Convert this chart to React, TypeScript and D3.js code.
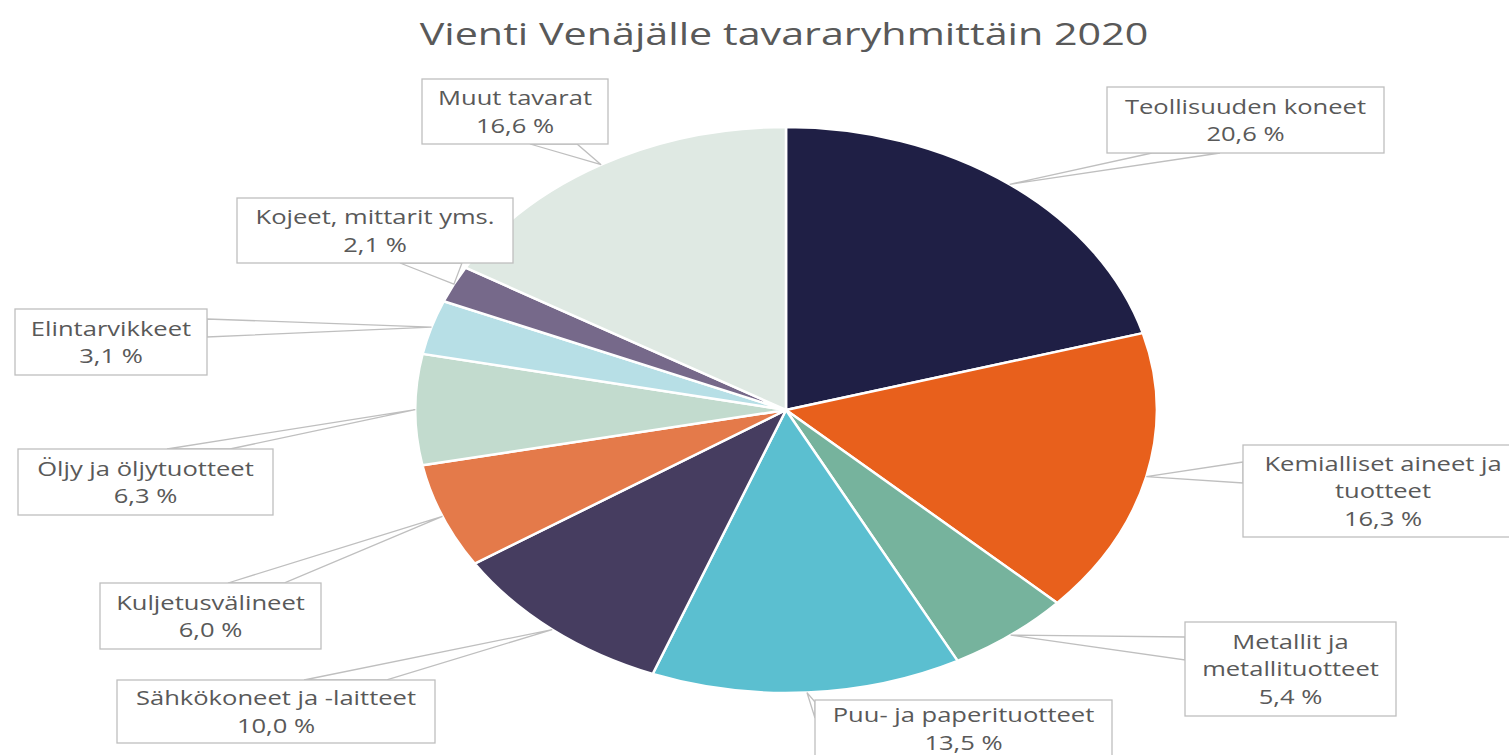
import React from "react";
import * as d3 from "d3";

const title = "Vienti Venäjälle tavararyhmittäin 2020";

const categories = [
  "Teollisuuden koneet",
  "Kemialliset aineet ja\ntuotteet",
  "Metallit ja\nmetallituotteet",
  "Puu- ja paperituotteet",
  "Sähkökoneet ja -laitteet",
  "Kuljetusvälineet",
  "Öljy ja öljytuotteet",
  "Elintarvikkeet",
  "Kojeet, mittarit yms.",
  "Muut tavarat",
];

const shares = [20.6, 16.3, 5.4, 13.5, 10.0, 6.0, 6.3, 3.1, 2.1, 16.6];

const colors = [
  "#1f1f45", "#e8601c", "#76b39d", "#5bbfd0", "#463d60",
  "#e47a4a", "#c2dbce", "#b7dfe6", "#76698a", "#dfe9e3",
];

// callout box layout: box rect, wedge side and the two base positions along that side
const callouts = [
  { x: 1107, y: 87, w: 277, h: 66, side: "bottom", a: 1152, b: 1220 },
  { x: 1243, y: 445, w: 280, h: 92, side: "left", a: 462, b: 483 },
  { x: 1185, y: 622, w: 211, h: 94, side: "left", a: 637, b: 660 },
  { x: 815, y: 700, w: 297, h: 57, side: "left", a: 702, b: 718 },
  { x: 117, y: 680, w: 318, h: 63, side: "top", a: 304, b: 386 },
  { x: 100, y: 583, w: 221, h: 66, side: "top", a: 228, b: 284 },
  { x: 18, y: 449, w: 255, h: 66, side: "top", a: 167, b: 230 },
  { x: 15, y: 309, w: 192, h: 66, side: "right", a: 319, b: 337 },
  { x: 237, y: 198, w: 276, h: 65, side: "bottom", a: 400, b: 462 },
  { x: 422, y: 79, w: 186, h: 65, side: "bottom", a: 530, b: 577 },
];

const W = 1509;
const H = 755;
const cx = 786;
const cy = 410;
const r = 283;
const sx = 1.31; // the chart is stretched horizontally
const textColor = "#595959";
const font = "'Open Sans', 'DejaVu Sans', sans-serif";

const fmt = (v: number) => v.toFixed(1).replace(".", ",") + " %";

export default function App() {
  const pie = d3.pie<number>().sort(null).value((d) => d);
  const arcs = pie(shares);
  const arc = d3.arc<d3.PieArcDatum<number>>().innerRadius(0).outerRadius(r);
  const edge = d3.arc<d3.PieArcDatum<number>>().innerRadius(r).outerRadius(r);

  const wedgeBase = (c: typeof callouts[number]): [number, number][] => {
    if (c.side === "bottom") return [[c.a, c.y + c.h], [c.b, c.y + c.h]];
    if (c.side === "top") return [[c.a, c.y], [c.b, c.y]];
    if (c.side === "left") return [[c.x, c.a], [c.x, c.b]];
    return [[c.x + c.w, c.a], [c.x + c.w, c.b]];
  };

  const lineH = 27.5;

  return (
    <svg
      width={W}
      height={H}
      style={{ position: "absolute", left: 0, top: 0, background: "#fff" }}
      fontFamily={font}
    >
      <text
        transform={`translate(784,45) scale(${sx},1)`}
        textAnchor="middle"
        fontSize={31.5}
        fill={textColor}
      >
        {title}
      </text>

      <g transform={`translate(${cx},${cy}) scale(${sx},1)`}>
        {arcs.map((d, i) => (
          <path
            key={i}
            d={arc(d) ?? ""}
            fill={colors[i]}
            stroke="#fff"
            strokeWidth={2.5}
            strokeLinejoin="round"
            vectorEffect="non-scaling-stroke"
          />
        ))}
      </g>

      {arcs.map((d, i) => {
        const c = callouts[i];
        const [px, py] = edge.centroid(d);
        const tip: [number, number] = [cx + px * sx, cy + py];
        const [p1, p2] = wedgeBase(c);
        const lines = [...categories[i].split("\n"), fmt(shares[i])];
        const tx = c.x + c.w / 2;
        const ty0 = c.y + c.h / 2 - ((lines.length - 1) * lineH) / 2;
        return (
          <g key={i}>
            <polygon
              points={[p1, tip, p2].map((p) => p.join(",")).join(" ")}
              fill="#fff"
              stroke="#bfbfbf"
              strokeWidth={1.3}
            />
            <rect
              x={c.x}
              y={c.y}
              width={c.w}
              height={c.h}
              fill="#fff"
              stroke="#bfbfbf"
              strokeWidth={1.3}
            />
            {lines.map((t, j) => (
              <text
                key={j}
                transform={`translate(${tx},${ty0 + j * lineH}) scale(${sx},1)`}
                textAnchor="middle"
                dominantBaseline="central"
                fontSize={19.5}
                fill={textColor}
              >
                {t}
              </text>
            ))}
          </g>
        );
      })}
    </svg>
  );
}
